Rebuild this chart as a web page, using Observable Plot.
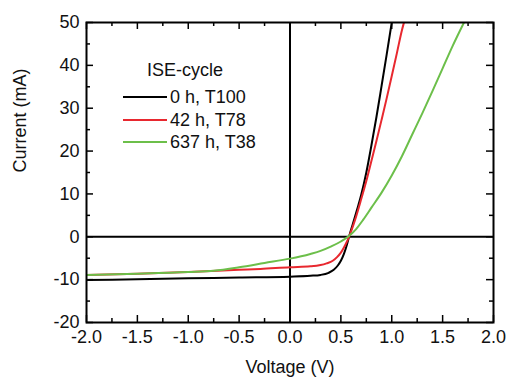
<!DOCTYPE html>
<html>
<head>
<meta charset="utf-8">
<script src="https://cdn.jsdelivr.net/npm/d3@7"></script>
<script src="https://cdn.jsdelivr.net/npm/@observablehq/plot@0.6"></script>
<style>
  body { margin: 0; background: #fff; }
  #wrap { position: relative; width: 507px; height: 377px; font-family: "Liberation Sans", Arial, sans-serif; }
  #legend { position: absolute; left: 0; top: 0; font-size: 18px; color: #111; }
  .lg-title { position: absolute; left: 147px; top: 59px; white-space: nowrap; line-height: 22px; }
  .lg-row { position: absolute; left: 123px; white-space: nowrap; line-height: 22px; display: flex; align-items: center; }
  .lg-sw { width: 44px; height: 2px; margin-right: 3px; }
</style>
</head>
<body>
<div id="wrap"><div id="legend"></div></div>
<script>
// ---- data ----
const seriesNames = ["0 h, T100", "42 h, T78", "637 h, T38"];
const seriesColors = ["#000000", "#e8282f", "#6cbf4a"];
const legendTitle = "ISE-cycle";

const blackV = [-2, -1.5, -1, -0.5, 0, 0.2, 0.3, 0.38, 0.43, 0.47, 0.5, 0.53, 0.56, 0.58, 0.62, 0.66, 0.7, 0.75, 0.8, 0.85, 0.9, 0.95, 1.0];
const blackI = [-10.1, -9.9, -9.7, -9.5, -9.3, -9.1, -8.9, -8.4, -7.7, -6.7, -5.6, -4.0, -1.8, 0, 3.2, 6.4, 9.8, 15, 21.3, 28, 35.2, 42.5, 50];

const redV = [-2, -1.5, -1, -0.5, -0.29, 0, 0.2, 0.3, 0.36, 0.42, 0.46, 0.5, 0.53, 0.56, 0.58, 0.64, 0.7, 0.75, 0.8, 0.85, 0.9, 0.95, 1.0, 1.05, 1.1, 1.12];
const redI = [-8.9, -8.6, -8.2, -7.7, -7.5, -7.1, -6.9, -6.6, -6.2, -5.6, -4.8, -3.7, -2.5, -1.1, 0, 4, 8.8, 13, 17.7, 22.4, 27.3, 32.3, 37.5, 42.8, 48.2, 50];

const greenV = [-2, -1.5, -1, -0.75, -0.5, -0.25, 0, 0.2, 0.3, 0.4, 0.5, 0.57, 0.65, 0.72, 0.8, 0.9, 1.0, 1.1, 1.2, 1.3, 1.4, 1.5, 1.6, 1.71];
const greenI = [-8.9, -8.6, -8.2, -7.9, -7.1, -6.1, -5.1, -4.0, -3.3, -2.3, -1.1, 0, 1.8, 4, 6.8, 10.3, 14.3, 18.8, 23.8, 28.8, 34, 39.3, 44.6, 50];

const xMajor = [-2, -1.5, -1, -0.5, 0, 0.5, 1, 1.5, 2];
const xMinor = [-1.75, -1.25, -0.75, -0.25, 0.25, 0.75, 1.25, 1.75];
const yMajor = [-20, -10, 0, 10, 20, 30, 40, 50];
const yMinor = [-15, -5, 5, 15, 25, 35, 45];
const xLabel = "Voltage (V)";
const yLabel = "Current (mA)";

// ---- build ----
const W = 507, H = 377;
const mL = 86, mR = 14, mT = 22, mB = 55;
const pw = W - mL - mR, ph = H - mT - mB;
const majLen = 7, minLen = 4;

const rows = [];
[[blackV, blackI], [redV, redI], [greenV, greenI]].forEach(([vs, is], k) => {
  vs.forEach((v, i) => rows.push({series: seriesNames[k], V: v, I: is[i]}));
});

const tickStyle = {stroke: "#000", strokeWidth: 1.5};
const plot = Plot.plot({
  width: W, height: H,
  marginLeft: mL, marginRight: mR, marginTop: mT, marginBottom: mB,
  style: {fontFamily: "'Liberation Sans', Arial, sans-serif", fontSize: "18px", color: "#111", background: "transparent"},
  x: {domain: [-2, 2], ticks: xMajor, tickFormat: d => d.toFixed(1), tickSize: 0, tickPadding: 8, label: null},
  y: {domain: [-20, 50], ticks: yMajor, tickFormat: d => String(d), tickSize: 0, tickPadding: 7, label: null},
  color: {domain: seriesNames, range: seriesColors},
  marks: [
    Plot.ruleY([0], {stroke: "#000", strokeWidth: 2}),
    Plot.ruleX([0], {stroke: "#000", strokeWidth: 2}),
    Plot.line(rows, {x: "V", y: "I", z: "series", stroke: "series", strokeWidth: 2, curve: "monotone-x", clip: true}),
    // inward ticks: bottom / top
    Plot.ruleX(xMajor, {...tickStyle, insetTop: ph - majLen}),
    Plot.ruleX(xMinor, {...tickStyle, insetTop: ph - minLen}),
    Plot.ruleX(xMajor, {...tickStyle, insetBottom: ph - majLen}),
    Plot.ruleX(xMinor, {...tickStyle, insetBottom: ph - minLen}),
    // inward ticks: left / right
    Plot.ruleY(yMajor, {...tickStyle, insetRight: pw - majLen}),
    Plot.ruleY(yMinor, {...tickStyle, insetRight: pw - minLen}),
    Plot.ruleY(yMajor, {...tickStyle, insetLeft: pw - majLen}),
    Plot.ruleY(yMinor, {...tickStyle, insetLeft: pw - minLen}),
    Plot.frame({stroke: "#000", strokeWidth: 2}),
    Plot.text([xLabel], {frameAnchor: "bottom", dy: 50, fontSize: 18, fill: "#111"}),
    Plot.text([yLabel], {frameAnchor: "left", dx: -66, rotate: -90, fontSize: 18, fill: "#111"})
  ]
});
document.getElementById("wrap").prepend(plot);

// legend
const lg = document.getElementById("legend");
const t = document.createElement("div");
t.className = "lg-title"; t.textContent = legendTitle; lg.appendChild(t);
seriesNames.forEach((n, i) => {
  const r = document.createElement("div");
  r.className = "lg-row";
  r.style.top = (86 + i * 22.5) + "px";
  const sw = document.createElement("span");
  sw.className = "lg-sw"; sw.style.background = seriesColors[i];
  const tx = document.createElement("span"); tx.textContent = n;
  r.appendChild(sw); r.appendChild(tx);
  lg.appendChild(r);
});
</script>
</body>
</html>
